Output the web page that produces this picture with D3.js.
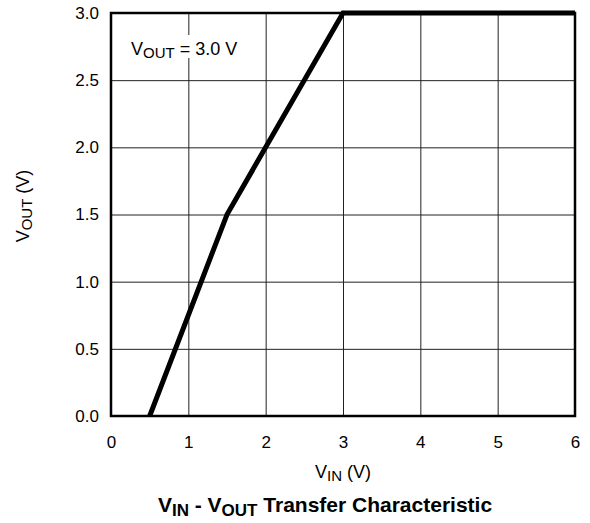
<!DOCTYPE html>
<html>
<head>
<meta charset="utf-8">
<script src="https://cdn.jsdelivr.net/npm/d3@7"></script>
<style>
  body { margin: 0; background: #fff; }
  svg text { font-family: "Liberation Sans", Arial, sans-serif; fill: #000; }
</style>
</head>
<body>
<svg id="chart" width="590" height="523"></svg>
<script>
// transfer curve, VIN -> VOUT
const vin = [0.5, 1.5, 3, 6];
const vout = [0, 1.5, 3, 3];
const xTicks = [0, 1, 2, 3, 4, 5, 6];
const yTicks = [0, 0.5, 1, 1.5, 2, 2.5, 3];

const mLeft = 111, mRight = 575, mTop = 13, mBottom = 416;
const svg = d3.select('#chart');

const x = d3.scaleLinear().domain([0, 6]).range([mLeft, mRight]);
const y = d3.scaleLinear().domain([0, 3]).range([mBottom, mTop]);

// grid
svg.append('g')
    .attr('transform', 'translate(0,' + mBottom + ')')
    .call(d3.axisBottom(x).tickValues(xTicks).tickSize(-(mBottom - mTop)).tickFormat(d => d))
    .call(g => g.select('.domain').remove())
    .call(g => g.selectAll('line').attr('stroke', '#222').attr('stroke-width', 1))
    .call(g => g.selectAll('text').attr('y', 32).attr('dy', 0).style('font-size', '17px'));

svg.append('g')
    .attr('transform', 'translate(' + mLeft + ',0)')
    .call(d3.axisLeft(y).tickValues(yTicks).tickSize(-(mRight - mLeft)).tickFormat(d3.format('.1f')))
    .call(g => g.select('.domain').remove())
    .call(g => g.selectAll('line').attr('stroke', '#222').attr('stroke-width', 1))
    .call(g => g.selectAll('text').attr('x', -12).style('font-size', '17px'));

// frame
svg.append('rect')
    .attr('x', mLeft).attr('y', mTop)
    .attr('width', mRight - mLeft).attr('height', mBottom - mTop)
    .attr('fill', 'none').attr('stroke', '#000').attr('stroke-width', 2.5);

// curve
const line = d3.line().x(d => x(d)).y((d, i) => y(vout[i]));
svg.append('path')
    .datum(vin)
    .attr('d', line)
    .attr('fill', 'none')
    .attr('stroke', '#000')
    .attr('stroke-width', 5);

// annotation label
const note = svg.append('text').attr('x', 131).attr('y', 55).style('font-size', '18px');
note.append('tspan').text('V');
note.append('tspan').attr('dy', 3).style('font-size', '15px').text('OUT');
note.append('tspan').attr('dy', -3).text(' = 3.0 V');
const nb = note.node().getBBox();
svg.insert('rect', () => note.node())
    .attr('x', nb.x - 2).attr('y', 35).attr('width', nb.width + 4).attr('height', 23)
    .attr('fill', '#fff');

// axis titles
const xt = svg.append('text').attr('x', 343).attr('y', 478)
    .attr('text-anchor', 'middle').style('font-size', '18px');
xt.append('tspan').text('V');
xt.append('tspan').attr('dy', 3).style('font-size', '15px').text('IN');
xt.append('tspan').attr('dy', -3).text(' (V)');

const yt = svg.append('text')
    .attr('transform', 'translate(29,206) rotate(-90)')
    .attr('text-anchor', 'middle').style('font-size', '18px');
yt.append('tspan').text('V');
yt.append('tspan').attr('dy', 3).style('font-size', '15px').text('OUT');
yt.append('tspan').attr('dy', -3).text(' (V)');

const title = svg.append('text').attr('x', 325).attr('y', 512)
    .attr('text-anchor', 'middle').style('font-size', '21px').style('font-weight', 'bold');
title.append('tspan').text('V');
title.append('tspan').attr('dy', 4).style('font-size', '17px').text('IN');
title.append('tspan').attr('dy', -4).text(' - V');
title.append('tspan').attr('dy', 4).style('font-size', '17px').text('OUT');
title.append('tspan').attr('dy', -4).text(' Transfer Characteristic');
</script>
</body>
</html>
